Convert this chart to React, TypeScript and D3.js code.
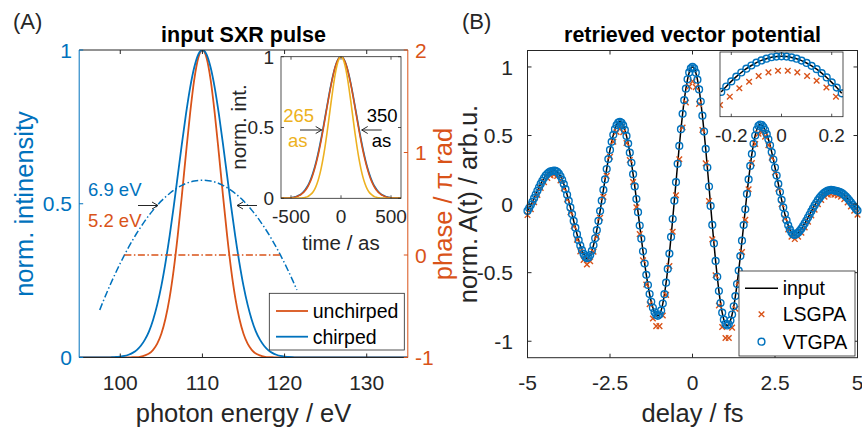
import React from "react";
import * as d3 from "d3";

const BLUE = "#0072BD";
const ORANGE = "#D95319";
const YELLOW = "#EDB120";
const INK = "#262626";
const FONT = '"Liberation Sans", Arial, Helvetica, sans-serif';

// ---------- Panel A: spectra on a 0.5 eV grid starting at 95 eV ----------
const energyStart = 95;
const energyStep = 0.5;
const unchirpedSpectrum = [
  0, 0, 0, 0, 0, 0, 0, 0, 0, 0, 0, 0, 0,
  0.001, 0.001, 0.003, 0.007, 0.013, 0.025, 0.045, 0.077, 0.126, 0.194, 0.285, 0.398, 0.527, 0.664, 0.794, 0.903, 0.975,
  1.0,
  0.975, 0.903, 0.794, 0.664, 0.527, 0.398, 0.285, 0.194, 0.126, 0.077, 0.045, 0.025, 0.013, 0.007, 0.003, 0.001, 0.001,
  0, 0, 0, 0, 0, 0, 0, 0, 0, 0, 0, 0, 0, 0, 0, 0, 0, 0, 0, 0, 0, 0, 0, 0, 0, 0, 0, 0, 0, 0, 0, 0, 0,
];
const chirpedSpectrum = [
  0, 0, 0, 0, 0, 0, 0, 0,
  0.001, 0.002, 0.003, 0.005, 0.009, 0.015, 0.024, 0.038, 0.058, 0.085, 0.123, 0.172, 0.233, 0.308, 0.394, 0.49, 0.592, 0.695, 0.792, 0.877, 0.943, 0.986,
  1.0,
  0.986, 0.943, 0.877, 0.792, 0.695, 0.592, 0.49, 0.394, 0.308, 0.233, 0.172, 0.123, 0.085, 0.058, 0.038, 0.024, 0.015, 0.009, 0.005, 0.003, 0.002, 0.001,
  0, 0, 0, 0, 0, 0, 0, 0, 0, 0, 0, 0, 0, 0, 0, 0, 0, 0, 0, 0, 0, 0, 0, 0, 0, 0, 0, 0,
];
// spectral phase in units of pi
const chirpedPhaseStart = 97.5;
const chirpedPhase = [
  -0.536, -0.436, -0.341, -0.25, -0.163, -0.08, -0.001, 0.074, 0.145, 0.212,
  0.274, 0.333, 0.388, 0.438, 0.485, 0.528, 0.566, 0.6, 0.631, 0.657,
  0.679, 0.698, 0.712, 0.722, 0.728, 0.73, 0.728, 0.722, 0.712, 0.698,
  0.679, 0.657, 0.631, 0.6, 0.566, 0.528, 0.485, 0.438, 0.388, 0.333,
  0.274, 0.212, 0.145, 0.074, -0.001, -0.08, -0.163, -0.25, -0.341,
];
const unchirpedPhaseEnergy = [100.5, 119.5];
const unchirpedPhase = [0, 0];
const energyTicks = [100, 110, 120, 130];
const intensityTicks = [0, 0.5, 1];
const intensityLabels = ["0", "0.5", "1"];
const phaseTicks = [-1, 0, 1, 2];

// inset: temporal intensity on a 20 as grid starting at -600 as
const timeStart = -600;
const timeStep = 20;
const unchirpedPulse = [
  0, 0.001, 0.001, 0.001, 0.002, 0.004, 0.005, 0.008, 0.013, 0.019, 0.027, 0.038, 0.053, 0.073, 0.099,
  0.13, 0.17, 0.217, 0.272, 0.334, 0.404, 0.48, 0.56, 0.642, 0.722, 0.797, 0.865, 0.922, 0.964, 0.991,
  1.0,
  0.991, 0.964, 0.922, 0.865, 0.797, 0.722, 0.642, 0.56, 0.48, 0.404, 0.334, 0.272, 0.217, 0.17, 0.13,
  0.099, 0.073, 0.053, 0.038, 0.027, 0.019, 0.013, 0.008, 0.005, 0.004, 0.002, 0.001, 0.001, 0.001, 0,
];
const chirpedPulse = [
  0, 0.001, 0.001, 0.002, 0.003, 0.004, 0.007, 0.01, 0.015, 0.021, 0.03, 0.043, 0.059, 0.08, 0.106,
  0.14, 0.18, 0.228, 0.284, 0.347, 0.417, 0.492, 0.571, 0.651, 0.73, 0.804, 0.869, 0.924, 0.966, 0.991,
  1.0,
  0.991, 0.966, 0.924, 0.869, 0.804, 0.73, 0.651, 0.571, 0.492, 0.417, 0.347, 0.284, 0.228, 0.18, 0.14,
  0.106, 0.08, 0.059, 0.043, 0.03, 0.021, 0.015, 0.01, 0.007, 0.004, 0.003, 0.002, 0.001, 0.001, 0,
];
const limitedPulse = [
  0, 0, 0, 0, 0, 0, 0, 0, 0.001, 0.001, 0.002, 0.003, 0.006, 0.01, 0.018,
  0.029, 0.045, 0.069, 0.103, 0.148, 0.206, 0.278, 0.364, 0.461, 0.566, 0.674, 0.777, 0.868, 0.939, 0.984,
  1.0,
  0.984, 0.939, 0.868, 0.777, 0.674, 0.566, 0.461, 0.364, 0.278, 0.206, 0.148, 0.103, 0.069, 0.045, 0.029,
  0.018, 0.01, 0.006, 0.003, 0.002, 0.001, 0.001, 0, 0, 0, 0, 0, 0, 0, 0,
];
const timeTicks = [-500, 0, 500];
const pulseTicks = [0, 0.5, 1];
const pulseLabels = ["0", "0.5", "1"];

// ---------- Panel B: vector potential on a 0.05 fs delay grid from -5 fs ----------
const delayStart = -5;
const delayStep = 0.05;
const inputField = [
  -0.05, -0.03, -0.007, 0.017, 0.043, 0.07, 0.097, 0.123, 0.147, 0.17,
  0.19, 0.208, 0.221, 0.232, 0.238, 0.24, 0.245, 0.243, 0.236, 0.223,
  0.203, 0.177, 0.146, 0.109, 0.068, 0.023, -0.024, -0.073, -0.123, -0.172,
  -0.219, -0.263, -0.302, -0.336, -0.363, -0.383, -0.395, -0.389, -0.371, -0.341,
  -0.3, -0.249, -0.19, -0.123, -0.051, 0.025, 0.103, 0.18, 0.256, 0.328,
  0.395, 0.454, 0.505, 0.546, 0.576, 0.594, 0.6, 0.593, 0.574, 0.541,
  0.497, 0.441, 0.375, 0.301, 0.218, 0.129, 0.037, -0.059, -0.156, -0.252,
  -0.344, -0.433, -0.516, -0.59, -0.656, -0.712, -0.756, -0.789, -0.808, -0.815,
  -0.805, -0.775, -0.725, -0.657, -0.573, -0.473, -0.361, -0.239, -0.109, 0.025,
  0.16, 0.294, 0.424, 0.546, 0.658, 0.758, 0.842, 0.91, 0.96, 0.99,
  1.0, 0.989, 0.958, 0.907, 0.836, 0.748, 0.645, 0.529, 0.402, 0.267,
  0.128, -0.013, -0.152, -0.287, -0.414, -0.53, -0.634, -0.721, -0.792, -0.843,
  -0.874, -0.885, -0.876, -0.849, -0.805, -0.745, -0.671, -0.583, -0.485, -0.379,
  -0.267, -0.153, -0.038, 0.074, 0.18, 0.278, 0.366, 0.44, 0.5, 0.544,
  0.571, 0.58, 0.576, 0.562, 0.54, 0.51, 0.473, 0.429, 0.379, 0.325,
  0.267, 0.208, 0.147, 0.088, 0.031, -0.024, -0.074, -0.118, -0.155, -0.185,
  -0.207, -0.221, -0.225, -0.218, -0.208, -0.195, -0.179, -0.161, -0.141, -0.12,
  -0.098, -0.076, -0.053, -0.031, -0.01, 0.01, 0.029, 0.045, 0.06, 0.073,
  0.084, 0.092, 0.098, 0.101, 0.103, 0.102, 0.099, 0.096, 0.093, 0.089,
  0.084, 0.076, 0.066, 0.055, 0.042, 0.028, 0.013, -0.003, -0.018, -0.033,
  -0.047,
];
// the VTGPA reconstruction falls on the input field at every sample
const vtgpaField = inputField;
// LSGPA reconstruction, 0.1 fs grid from -5 fs
const lsgpaStep = 0.1;
const lsgpaField = [
  -0.08, -0.037, 0.013, 0.067, 0.117, 0.16, 0.191, 0.208, 0.215, 0.206,
  0.173, 0.114, 0.034, -0.06, -0.162, -0.26, -0.345, -0.407, -0.44, -0.417,
  -0.347, -0.238, -0.1, 0.053, 0.206, 0.345, 0.455, 0.526, 0.55, 0.524,
  0.446, 0.321, 0.161, -0.023, -0.219, -0.41, -0.586, -0.73, -0.834, -0.89,
  -0.89, -0.812, -0.662, -0.452, -0.202, 0.065, 0.327, 0.559, 0.741, 0.857,
  0.895, 0.853, 0.731, 0.54, 0.297, 0.023, -0.257, -0.519, -0.739, -0.896,
  -0.976, -0.976, -0.901, -0.763, -0.572, -0.349, -0.115, 0.108, 0.299, 0.438,
  0.514, 0.524, 0.492, 0.429, 0.339, 0.23, 0.113, 0.0, -0.104, -0.185,
  -0.237, -0.255, -0.238, -0.209, -0.171, -0.128, -0.083, -0.04, -0.001, 0.03,
  0.054, 0.068, 0.073, 0.069, 0.063, 0.054, 0.036, 0.012, -0.017, -0.048,
  -0.077,
];
const delayTicks = [-5, -2.5, 0, 2.5, 5];
const fieldTicks = [-1, -0.5, 0, 0.5, 1];

// zoom on the main peak: 0.02 fs grid from -0.24 fs
const zoomStart = -0.24;
const zoomStep = 0.02;
const zoomInput = [
  0.776, 0.81, 0.842, 0.872, 0.898, 0.922, 0.942, 0.96, 0.974, 0.985, 0.994, 0.998, 1.0,
  0.998, 0.993, 0.985, 0.973, 0.958, 0.94, 0.919, 0.894, 0.867, 0.836, 0.803, 0.767,
];
const zoomLsgpaDelay = [-0.245, -0.206, -0.168, -0.129, -0.091, -0.052, -0.014, 0.025, 0.063, 0.102, 0.14, 0.179, 0.217];
const zoomLsgpa = [0.694, 0.746, 0.799, 0.84, 0.876, 0.899, 0.909, 0.909, 0.899, 0.876, 0.846, 0.804, 0.746];
const zoomTicks = [-0.2, 0, 0.2];

// plot boxes in pixels
const A = { l: 79.2, r: 407.8, t: 50, b: 357.5 };
const AI = { l: 281, r: 401, t: 56.7, b: 198.3 };
const B = { l: 527.5, r: 857.5, t: 50.5, b: 357.7 };
const BI = { l: 720, r: 843, t: 52, b: 116.7 };
const TICK = 4;
const CIRCLE_R = 3.4;
const CROSS_S = 2.8;

const fmt = (v: number) => String(v);

function Arrow({ x1, x2, y }: { x1: number; x2: number; y: number }) {
  const dir = Math.sign(x2 - x1);
  return (
    <g stroke={INK} strokeWidth={1} fill="none">
      <line x1={x1} x2={x2} y1={y} y2={y} />
      <path d={`M${x2 - dir * 6},${y - 3.5}L${x2},${y}L${x2 - dir * 6},${y + 3.5}`} />
    </g>
  );
}

function cross(x: number, y: number, s: number) {
  return `M${x - s},${y - s}L${x + s},${y + s}M${x - s},${y + s}L${x + s},${y - s}`;
}

export default function App() {
  const xA = d3.scaleLinear().domain([95, 135]).range([A.l, A.r]);
  const yA = d3.scaleLinear().domain([0, 1]).range([A.b, A.t]);
  const yP = d3.scaleLinear().domain([-1, 2]).range([A.b, A.t]);
  const xT = d3.scaleLinear().domain([-600, 600]).range([AI.l, AI.r]);
  const yT = d3.scaleLinear().domain([0, 1]).range([AI.b, AI.t]);
  const xB = d3.scaleLinear().domain([-5, 5]).range([B.l, B.r]);
  const yB = d3.scaleLinear().domain([-1.12, 1.12]).range([B.b, B.t]);
  const xZ = d3.scaleLinear().domain([-0.245, 0.245]).range([BI.l, BI.r]);
  const yZ = d3.scaleLinear().domain([0.62, 1.027]).range([BI.b, BI.t]);

  const spectrumLine = d3
    .line<number>()
    .x((_, i) => xA(energyStart + i * energyStep))
    .y((v) => yA(v))
    .curve(d3.curveMonotoneX);
  const chirpPhaseLine = d3
    .line<number>()
    .x((_, i) => xA(chirpedPhaseStart + i * energyStep))
    .y((v) => yP(v))
    .curve(d3.curveMonotoneX);
  const flatPhaseLine = d3
    .line<number>()
    .x((_, i) => xA(unchirpedPhaseEnergy[i]))
    .y((v) => yP(v));
  const pulseLine = d3
    .line<number>()
    .x((_, i) => xT(timeStart + i * timeStep))
    .y((v) => yT(v))
    .curve(d3.curveMonotoneX);
  const fieldLine = d3
    .line<number>()
    .x((_, i) => xB(delayStart + i * delayStep))
    .y((v) => yB(v))
    .curve(d3.curveMonotoneX);
  const zoomLine = d3
    .line<number>()
    .x((_, i) => xZ(zoomStart + i * zoomStep))
    .y((v) => yZ(v))
    .curve(d3.curveMonotoneX);

  const dashDot = "7,2.5,1.5,2.5";
  const tickFont = 21;

  return (
    <svg
      width={862}
      height={431}
      viewBox="0 0 862 431"
      style={{ position: "absolute", left: 0, top: 0, background: "#fff" }}
      fontFamily={FONT}
    >
      <defs>
        <clipPath id="clipA">
          <rect x={A.l} y={A.t} width={A.r - A.l} height={A.b - A.t} />
        </clipPath>
        <clipPath id="clipAI">
          <rect x={AI.l} y={AI.t} width={AI.r - AI.l} height={AI.b - AI.t} />
        </clipPath>
        <clipPath id="clipB">
          <rect x={B.l} y={B.t} width={B.r - B.l} height={B.b - B.t} />
        </clipPath>
        <clipPath id="clipBI">
          <rect x={BI.l} y={BI.t - 3} width={BI.r - BI.l} height={BI.b - BI.t + 3} />
        </clipPath>
      </defs>
      <rect x={0} y={0} width={862} height={431} fill="#fff" />

      {/* ================= Panel A ================= */}
      <text x={13} y={29} fontSize={22} fill={INK}>(A)</text>
      <text x={(A.l + A.r) / 2} y={41.7} fontSize={21.5} fontWeight="bold" textAnchor="middle" fill="#000">
        input SXR pulse
      </text>

      <g clipPath="url(#clipA)" fill="none">
        <path d={spectrumLine(unchirpedSpectrum) || ""} stroke={ORANGE} strokeWidth={1.8} />
        <path d={spectrumLine(chirpedSpectrum) || ""} stroke={BLUE} strokeWidth={1.8} />
        <path d={chirpPhaseLine(chirpedPhase) || ""} stroke={BLUE} strokeWidth={1.5} strokeDasharray={dashDot} />
        <path d={flatPhaseLine(unchirpedPhase) || ""} stroke={ORANGE} strokeWidth={1.5} strokeDasharray={dashDot} />
      </g>

      {/* axes frame */}
      <line x1={A.l} x2={A.r} y1={A.t} y2={A.t} stroke={INK} strokeWidth={1} />
      <line x1={A.l} x2={A.r} y1={A.b} y2={A.b} stroke={INK} strokeWidth={1} />
      <line x1={A.l} x2={A.l} y1={A.t} y2={A.b} stroke={BLUE} strokeWidth={1} />
      <line x1={A.r} x2={A.r} y1={A.t} y2={A.b} stroke={ORANGE} strokeWidth={1} />
      {energyTicks.map((e) => (
        <g key={`ea${e}`} stroke={INK} strokeWidth={1}>
          <line x1={xA(e)} x2={xA(e)} y1={A.b} y2={A.b - TICK} />
          <line x1={xA(e)} x2={xA(e)} y1={A.t} y2={A.t + TICK} />
        </g>
      ))}
      {intensityTicks.map((v) => (
        <line key={`ia${v}`} x1={A.l} x2={A.l + TICK} y1={yA(v)} y2={yA(v)} stroke={BLUE} strokeWidth={1} />
      ))}
      {phaseTicks.map((v) => (
        <line key={`pa${v}`} x1={A.r} x2={A.r - TICK} y1={yP(v)} y2={yP(v)} stroke={ORANGE} strokeWidth={1} />
      ))}
      {energyTicks.map((e) => (
        <text key={`el${e}`} x={xA(e)} y={389.5} fontSize={tickFont} textAnchor="middle" fill={INK}>
          {fmt(e)}
        </text>
      ))}
      {intensityTicks.map((v, i) => (
        <text key={`il${v}`} x={72} y={yA(v)} dy="0.36em" fontSize={tickFont} textAnchor="end" fill={BLUE}>
          {intensityLabels[i]}
        </text>
      ))}
      {phaseTicks.map((v) => (
        <text key={`pl${v}`} x={415} y={yP(v)} dy="0.36em" fontSize={tickFont} textAnchor="start" fill={ORANGE}>
          {fmt(v)}
        </text>
      ))}
      <text x={(A.l + A.r) / 2} y={421.5} fontSize={25.5} textAnchor="middle" fill={INK}>
        photon energy / eV
      </text>
      <text transform="translate(33,204) rotate(-90)" fontSize={25.5} textAnchor="middle" fill={BLUE}>
        norm. intinensity
      </text>
      <text transform="translate(452,204) rotate(-90)" fontSize={25.5} textAnchor="middle" fill={ORANGE}>
        phase / π rad
      </text>

      {/* bandwidth annotations */}
      <text x={88} y={196} fontSize={18.5} fill={BLUE}>6.9 eV</text>
      <text x={88} y={226.5} fontSize={18.5} fill={ORANGE}>5.2 eV</text>
      <Arrow x1={138} x2={158} y={205.5} />
      <Arrow x1={257} x2={237} y={205.5} />

      {/* legend A */}
      <rect x={269.3} y={293.3} width={135} height={56.7} fill="#fff" stroke={INK} strokeWidth={0.8} />
      <line x1={276} x2={308} y1={311} y2={311} stroke={ORANGE} strokeWidth={1.8} />
      <text x={312.7} y={311} dy="0.36em" fontSize={19.5} fill="#000">unchirped</text>
      <line x1={276} x2={308} y1={336.7} y2={336.7} stroke={BLUE} strokeWidth={1.8} />
      <text x={312.7} y={336.7} dy="0.36em" fontSize={19.5} fill="#000">chirped</text>

      {/* inset A: temporal profiles */}
      <rect x={AI.l} y={AI.t} width={AI.r - AI.l} height={AI.b - AI.t} fill="#fff" />
      <g clipPath="url(#clipAI)" fill="none">
        <path d={pulseLine(chirpedPulse) || ""} stroke={BLUE} strokeWidth={1.6} />
        <path d={pulseLine(unchirpedPulse) || ""} stroke={ORANGE} strokeWidth={1.6} />
        <path d={pulseLine(limitedPulse) || ""} stroke={YELLOW} strokeWidth={1.6} />
      </g>
      <rect x={AI.l} y={AI.t} width={AI.r - AI.l} height={AI.b - AI.t} fill="none" stroke={INK} strokeWidth={0.8} />
      {timeTicks.map((t) => (
        <g key={`ta${t}`} stroke={INK} strokeWidth={0.8}>
          <line x1={xT(t)} x2={xT(t)} y1={AI.b} y2={AI.b - 3} />
          <line x1={xT(t)} x2={xT(t)} y1={AI.t} y2={AI.t + 3} />
        </g>
      ))}
      {pulseTicks.map((v) => (
        <g key={`pt${v}`} stroke={INK} strokeWidth={0.8}>
          <line x1={AI.l} x2={AI.l + 3} y1={yT(v)} y2={yT(v)} />
          <line x1={AI.r} x2={AI.r - 3} y1={yT(v)} y2={yT(v)} />
        </g>
      ))}
      {timeTicks.map((t) => (
        <text key={`tl${t}`} x={xT(t)} y={223} fontSize={19} textAnchor="middle" fill={INK}>
          {fmt(t)}
        </text>
      ))}
      {pulseTicks.map((v, i) => (
        <text key={`ptl${v}`} x={274} y={yT(v)} dy="0.36em" fontSize={19} textAnchor="end" fill={INK}>
          {pulseLabels[i]}
        </text>
      ))}
      <text x={(AI.l + AI.r) / 2} y={250} fontSize={20.5} textAnchor="middle" fill={INK}>
        time / as
      </text>
      <text transform="translate(246,127) rotate(-90)" fontSize={20.5} textAnchor="middle" fill={INK}>
        norm. int.
      </text>
      <text x={283.3} y={121.7} fontSize={18.5} fill={YELLOW}>265</text>
      <text x={288} y={146.7} fontSize={18.5} fill={YELLOW}>as</text>
      <Arrow x1={300} x2={321.7} y={130} />
      <text x={366.7} y={121.7} fontSize={18.5} fill="#000">350</text>
      <text x={371.7} y={146.7} fontSize={18.5} fill="#000">as</text>
      <Arrow x1={381.7} x2={361.7} y={130} />

      {/* ================= Panel B ================= */}
      <text x={462} y={29} fontSize={22} fill={INK}>(B)</text>
      <text x={(B.l + B.r) / 2} y={41.7} fontSize={21.5} fontWeight="bold" textAnchor="middle" fill="#000">
        retrieved vector potential
      </text>

      <g clipPath="url(#clipB)">
        <path d={fieldLine(inputField) || ""} fill="none" stroke="#000" strokeWidth={1.5} />
      </g>
      <g stroke={ORANGE} strokeWidth={1.4} fill="none">
        {lsgpaField.map((v, i) => (
          <path key={`ls${i}`} d={cross(xB(delayStart + i * lsgpaStep), yB(v), CROSS_S)} />
        ))}
      </g>
      <g stroke={BLUE} strokeWidth={1.4} fill="none">
        {vtgpaField.map((v, i) => (
          <circle key={`vt${i}`} cx={xB(delayStart + i * delayStep)} cy={yB(v)} r={CIRCLE_R} />
        ))}
      </g>

      <rect x={B.l} y={B.t} width={B.r - B.l} height={B.b - B.t} fill="none" stroke={INK} strokeWidth={1} />
      {delayTicks.map((d) => (
        <g key={`dt${d}`} stroke={INK} strokeWidth={1}>
          <line x1={xB(d)} x2={xB(d)} y1={B.b} y2={B.b - TICK} />
          <line x1={xB(d)} x2={xB(d)} y1={B.t} y2={B.t + TICK} />
        </g>
      ))}
      {fieldTicks.map((v) => (
        <g key={`ft${v}`} stroke={INK} strokeWidth={1}>
          <line x1={B.l} x2={B.l + TICK} y1={yB(v)} y2={yB(v)} />
          <line x1={B.r} x2={B.r - TICK} y1={yB(v)} y2={yB(v)} />
        </g>
      ))}
      {delayTicks.map((d) => (
        <text key={`dl${d}`} x={xB(d)} y={389.5} fontSize={tickFont} textAnchor="middle" fill={INK}>
          {fmt(d)}
        </text>
      ))}
      {fieldTicks.map((v) => (
        <text key={`fl${v}`} x={513} y={yB(v)} dy="0.36em" fontSize={tickFont} textAnchor="end" fill={INK}>
          {fmt(v)}
        </text>
      ))}
      <text x={(B.l + B.r) / 2} y={421.5} fontSize={25.5} textAnchor="middle" fill={INK}>
        delay / fs
      </text>
      <text transform="translate(477,204) rotate(-90)" fontSize={25.5} textAnchor="middle" fill={INK}>
        norm. A(t) / arb.u.
      </text>

      {/* inset B: zoom on the central maximum */}
      <rect x={BI.l} y={BI.t} width={BI.r - BI.l} height={BI.b - BI.t} fill="#fff" />
      <g clipPath="url(#clipBI)">
        <path d={zoomLine(zoomInput) || ""} fill="none" stroke="#000" strokeWidth={1.5} />
        <g stroke={ORANGE} strokeWidth={1.4} fill="none">
          {zoomLsgpa.map((v, i) => (
            <path key={`zl${i}`} d={cross(xZ(zoomLsgpaDelay[i]), yZ(v), CROSS_S)} />
          ))}
        </g>
        <g stroke={BLUE} strokeWidth={1.4} fill="none">
          {zoomInput.map((v, i) => (
            <circle key={`zv${i}`} cx={xZ(zoomStart + i * zoomStep)} cy={yZ(v)} r={CIRCLE_R} />
          ))}
        </g>
      </g>
      <rect x={BI.l} y={BI.t} width={BI.r - BI.l} height={BI.b - BI.t} fill="none" stroke={INK} strokeWidth={0.8} />
      {zoomTicks.map((d) => (
        <g key={`zt${d}`} stroke={INK} strokeWidth={0.8}>
          <line x1={xZ(d)} x2={xZ(d)} y1={BI.b} y2={BI.b - 3} />
          <line x1={xZ(d)} x2={xZ(d)} y1={BI.t} y2={BI.t + 3} />
        </g>
      ))}
      {zoomTicks.map((d) => (
        <text key={`ztl${d}`} x={xZ(d)} y={141.7} fontSize={19} textAnchor="middle" fill={INK}>
          {fmt(d)}
        </text>
      ))}

      {/* legend B */}
      <rect x={739} y={271} width={116} height={85} fill="#fff" stroke={INK} strokeWidth={0.8} />
      <line x1={745} x2={778} y1={288.3} y2={288.3} stroke="#000" strokeWidth={1.5} />
      <text x={782.7} y={288.3} dy="0.36em" fontSize={19.5} fill="#000">input</text>
      <path d={cross(761.5, 314.3, CROSS_S)} stroke={ORANGE} strokeWidth={1.4} fill="none" />
      <text x={782.7} y={314.3} dy="0.36em" fontSize={19.5} fill="#000">LSGPA</text>
      <circle cx={761.5} cy={341.7} r={CIRCLE_R} stroke={BLUE} strokeWidth={1.4} fill="none" />
      <text x={782.7} y={341.7} dy="0.36em" fontSize={19.5} fill="#000">VTGPA</text>
    </svg>
  );
}
